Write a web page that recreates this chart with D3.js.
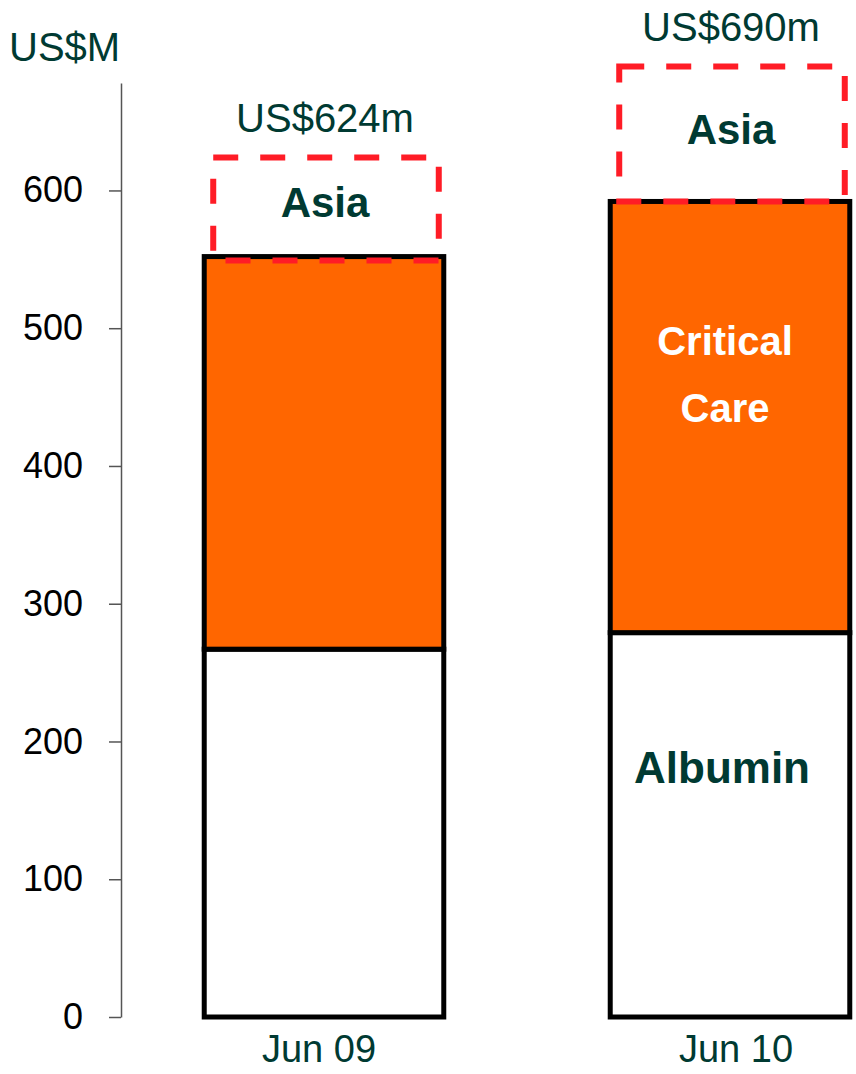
<!DOCTYPE html>
<html>
<head>
<meta charset="utf-8">
<script src="https://cdn.jsdelivr.net/npm/d3@7"></script>
<style>
  html, body { margin: 0; padding: 0; background: #fff; }
  svg { display: block; font-family: "Liberation Sans", Arial, sans-serif; }
</style>
</head>
<body>
<svg id="chart" width="856" height="1074"></svg>
<script>
// ---- data ----
const categories = ["Jun 09", "Jun 10"];
const albumin = [267, 279];
const criticalCare = [285, 313];
const asia = [72, 98];
const totalLabels = ["US$624m", "US$690m"];
const yTicks = [0, 100, 200, 300, 400, 500, 600];
const yUnit = "US$M";

// ---- setup ----
const svg = d3.select("#chart");
const textColor = "#003a32";
const orange = "#ff6600";
const red = "#ff1c26";

const y = d3.scaleLinear().domain([0, 678]).range([1017, 83]);
const x = d3.scaleBand().domain(categories).range([121, 933])
  .paddingInner(0.41).paddingOuter(0.205);

// y axis
const yAxis = d3.axisLeft(y).tickValues(yTicks).tickSize(12).tickPadding(26).tickSizeOuter(0);
const gy = svg.append("g").attr("transform", "translate(121,0)").call(yAxis);
gy.select(".domain").attr("stroke", "#555").attr("stroke-width", 1.5);
gy.selectAll(".tick line").attr("stroke", "#555").attr("stroke-width", 1.5);
gy.selectAll(".tick text").attr("fill", "#000").attr("font-size", 36)
  .attr("font-family", "Liberation Sans, Arial, sans-serif");

svg.append("text").attr("x", 9).attr("y", 61).attr("fill", textColor)
  .attr("font-size", 40).text(yUnit);

// stacked data
const rows = categories.map((c, i) => ({
  cat: c, albumin: albumin[i], critical: criticalCare[i], asia: asia[i], label: totalLabels[i]
}));

const bw = x.bandwidth();

rows.forEach((d, i) => {
  const x0 = x(d.cat);
  const critTop = d.albumin + d.critical;
  const total = critTop + d.asia;
  // albumin segment
  svg.append("rect").attr("x", x0).attr("y", y(d.albumin))
    .attr("width", bw).attr("height", y(0) - y(d.albumin))
    .attr("fill", "#fff").attr("stroke", "#000").attr("stroke-width", 5);
  // critical care segment
  svg.append("rect").attr("x", x0).attr("y", y(critTop))
    .attr("width", bw).attr("height", y(d.albumin) - y(critTop))
    .attr("fill", orange).attr("stroke", "#000").attr("stroke-width", 5);
  // asia dashed box
  svg.append("rect").attr("x", x0 + 9).attr("y", y(total))
    .attr("width", bw - 14).attr("height", y(critTop) - y(total) + (i === 0 ? 4 : 0))
    .attr("fill", "none").attr("stroke", red).attr("stroke-width", 6)
    .attr("stroke-dasharray", "25,22");
  const cx = x0 + bw / 2;
  svg.append("text").attr("x", cx + 1).attr("y", (y(total) + y(critTop)) / 2 + 10)
    .attr("text-anchor", "middle").attr("font-weight", "bold").attr("font-size", 42)
    .attr("fill", textColor).text("Asia");
  // total label
  svg.append("text").attr("x", cx + 1).attr("y", y(total) - 25)
    .attr("text-anchor", "middle").attr("font-size", 40)
    .attr("fill", textColor).text(d.label);
  // category label
  svg.append("text").attr("x", cx + (i === 0 ? -5 : 6)).attr("y", 1062)
    .attr("text-anchor", "middle").attr("font-size", 38)
    .attr("fill", textColor).text(d.cat);
});

// segment labels on second bar
const last = rows[1];
const lx = x(last.cat) + bw / 2 - 5;
svg.append("text").attr("x", lx).attr("y", 355).attr("text-anchor", "middle")
  .attr("font-weight", "bold").attr("font-size", 40).attr("fill", "#fff").text("Critical");
svg.append("text").attr("x", lx).attr("y", 422).attr("text-anchor", "middle")
  .attr("font-weight", "bold").attr("font-size", 40).attr("fill", "#fff").text("Care");
svg.append("text").attr("x", lx - 3).attr("y", 783).attr("text-anchor", "middle")
  .attr("font-weight", "bold").attr("font-size", 44).attr("fill", textColor).text("Albumin");
</script>
</body>
</html>
